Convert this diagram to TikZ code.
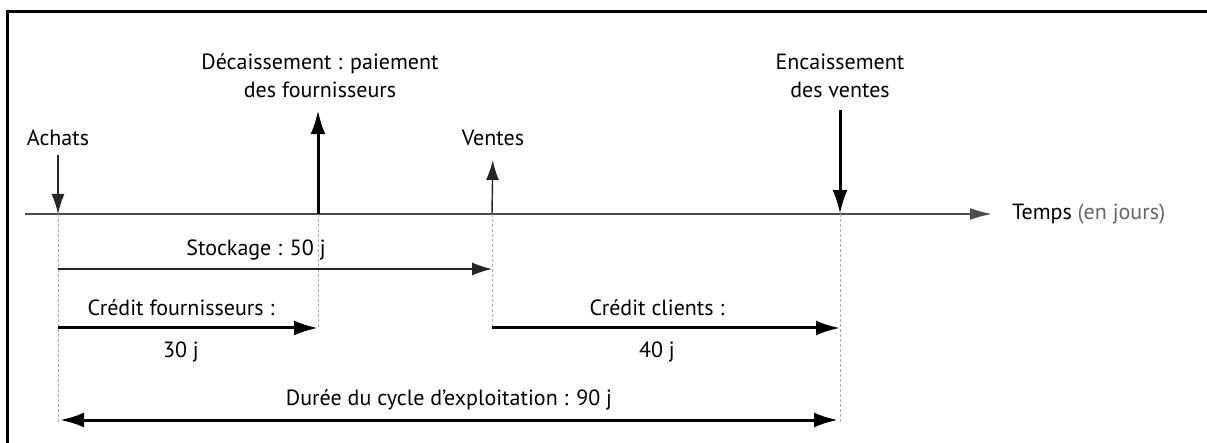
\documentclass[tikz,border=0pt]{standalone}
\usepackage{fontspec}
\setmainfont{PT Sans}
\usetikzlibrary{arrows.meta,positioning}

\begin{document}
\begin{tikzpicture}[x=1pt,y=-1pt,
  lbl/.style={font=\fontsize{22}{28}\selectfont, text=black, inner sep=0pt, align=center},
  thinarrow/.style={line width=1.4pt, black!85, -{Latex[length=20pt,width=13pt]}},
  thickarrow/.style={line width=3pt, black, -{Latex[length=24pt,width=15pt]}},
  guide/.style={gray!65, line width=0.9pt, dash pattern=on 3pt off 2pt}]
\useasboundingbox (0,0) rectangle (1207,443);
% cadre (scan: seulement haut et gauche)
\draw[line width=3pt] (7,443) -- (7,12) -- (1207,12);

% axe du temps
\coordinate (debut) at (25,214);
\coordinate (fin) at (992,214);
\draw[line width=1.8pt, black!70, -{Latex[length=22pt,width=12pt]}] (debut) -- (fin);
\node[lbl, anchor=west] (temps) at (1012,214) {Temps {\color{black!60}(en jours)}};

% evenements
\coordinate (achats) at (58,214);
\coordinate (decais) at (318,214);
\coordinate (ventes) at (492,214);
\coordinate (encais) at (840,214);

\node[lbl] (achatsL) at (58,138) {Achats};
\node[lbl] (decaisL) at (320,76) {Décaissement : paiement\\des fournisseurs};
\node[lbl] (ventesL) at (493,138) {Ventes};
\node[lbl] (encaisL) at (840,76) {Encaissement\\des ventes};

\draw[thinarrow, shorten <=9pt] (achatsL.south) -- (achats);
\draw[thickarrow, shorten >=12pt] (decais) -- (decais |- decaisL.south);
\draw[thinarrow, shorten >=14pt] (ventes) -- (ventesL.south);
\draw[thickarrow, shorten <=12pt] (encaisL.south) -- (encais);

% traits de rappel
\coordinate (achatsB) at (58,422);
\coordinate (decaisB) at (318,328);
\coordinate (ventesB) at (492,328);
\coordinate (encaisB) at (840,422);
\draw[guide] (achats) -- (achatsB);
\draw[guide] (decais) -- (decaisB);
\draw[guide] (ventes) -- (ventesB);
\draw[guide] (encais) -- (encaisB);

% durees
\coordinate (stockA) at (58,269);
\coordinate (stockB) at (492,269);
\draw[thinarrow] (stockA) -- (stockB);
\node[lbl] (stockL) at (256,250) {Stockage : 50 j};

\draw[thickarrow] (58,328) -- (decaisB);
\node[lbl] (fourL) at (181,308) {Crédit fournisseurs :};
\node[lbl] (fourJ) at (181,352) {30 j};

\draw[thickarrow] (ventesB) -- (840,328);
\node[lbl] (cliL) at (657,308) {Crédit clients :};
\node[lbl] (cliJ) at (657,352) {40 j};

\coordinate (cycleA) at (60,420);
\coordinate (cycleB) at (838,420);
\draw[thickarrow, {Latex[length=24pt,width=15pt]}-{Latex[length=24pt,width=15pt]}] (cycleA) -- (cycleB);
\node[lbl] (cycleL) at (449,400) {Durée du cycle d’exploitation : 90 j};
\end{tikzpicture}
\end{document}
